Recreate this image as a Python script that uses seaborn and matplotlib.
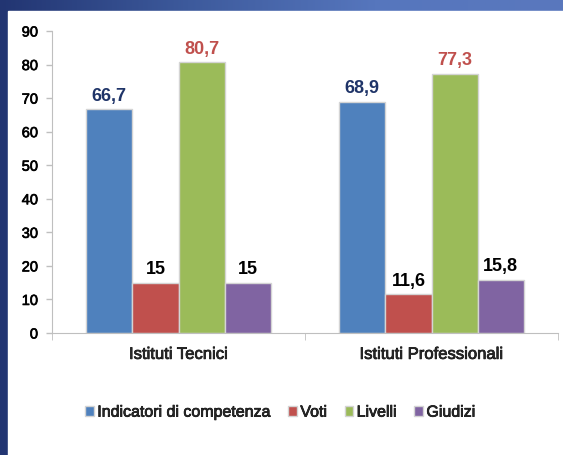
import numpy as np
import pandas as pd
import seaborn as sns
import matplotlib.pyplot as plt
import matplotlib.patheffects as pe
from matplotlib.patches import Rectangle

# Data
istituti = ['Istituti Tecnici', 'Istituti Professionali']
tipi = ['Indicatori di competenza', 'Voti', 'Livelli', 'Giudizi']
indicatori = [66.7, 68.9]
voti = [15, 11.6]
livelli = [80.7, 77.3]
giudizi = [15, 15.8]
etichette = [['66,7', '68,9'], ['15', '11,6'], ['80,7', '77,3'], ['15', '15,8']]

colori = ['#4f81bd', '#c0504d', '#9bbb59', '#8064a2']
colori_label = ['#1f3468', 'black', '#c0504d', 'black']

rows = []
for tipo, vals in zip(tipi, [indicatori, voti, livelli, giudizi]):
    for ist, v in zip(istituti, vals):
        rows.append({'istituto': ist, 'tipo': tipo, 'valore': v})
df = pd.DataFrame(rows)

sns.set_style('white')
plt.rcParams['font.family'] = ['Liberation Sans', 'DejaVu Sans']

# slightly heavier text, like the original rendering
semi = [pe.withStroke(linewidth=0.5, foreground='black')]

fig = plt.figure(figsize=(5.63, 4.56), dpi=100)

# blue gradient frame behind the white panel
bg = fig.add_axes([0, 0, 1, 1])
grad = np.linspace(0, 1, 256).reshape(1, -1)
bg.imshow(grad, aspect='auto', extent=[0, 1, 0, 1],
          cmap=plt.matplotlib.colors.LinearSegmentedColormap.from_list('f', ['#223572', '#3d5a9c', '#5676bd', '#5a78bd']))
bg.add_patch(Rectangle((8 / 563, 0), 1, 1 - 12 / 456, color='white'))
bg.set_xlim(0, 1)
bg.set_ylim(0, 1)
bg.axis('off')

ax = fig.add_axes([52 / 563, 1 - 334 / 456, 506 / 563, 302 / 456])
sns.barplot(data=df, x='istituto', y='valore', hue='tipo', palette=colori,
            width=0.73, gap=0, edgecolor='#d4d4d4', linewidth=1, ax=ax,
            saturation=1)

for cont, labs, c in zip(ax.containers, etichette, colori_label):
    ax.bar_label(cont, labels=labs, padding=4, color=c, fontsize=13,
                 fontweight='bold')

ax.set_ylim(0, 90)
ax.set_yticks(range(0, 91, 10))
ax.set_xlim(-0.5, 1.5)
ax.set_xlabel('')
ax.set_ylabel('')
ax.tick_params(axis='y', labelsize=10.5, length=4, color='#bfbfbf', width=1,
               pad=6, labelcolor='black', left=True)
ax.set_xticks([-0.5, 0.5, 1.5], minor=True)
ax.tick_params(axis='x', which='minor', length=5, color='#bfbfbf', bottom=True)
ax.tick_params(axis='x', which='major', length=0, labelsize=12, pad=10)
for t in ax.get_xticklabels() + ax.get_yticklabels():
    t.set_path_effects(semi)
for s in ['top', 'right']:
    ax.spines[s].set_visible(False)
for s in ['left', 'bottom']:
    ax.spines[s].set_color('#bfbfbf')
ax.patch.set_alpha(0)

handles, labels = ax.get_legend_handles_labels()
ax.get_legend().remove()
leg = fig.legend(handles, labels, loc='center', bbox_to_anchor=(0.498, 0.094), ncol=4,
                 frameon=False, fontsize=11.5, handlelength=0.55, handleheight=0.55,
                 handletextpad=0.2, columnspacing=1.1)
for t in leg.get_texts():
    t.set_path_effects(semi)

fig.savefig('out.png', dpi=100)
